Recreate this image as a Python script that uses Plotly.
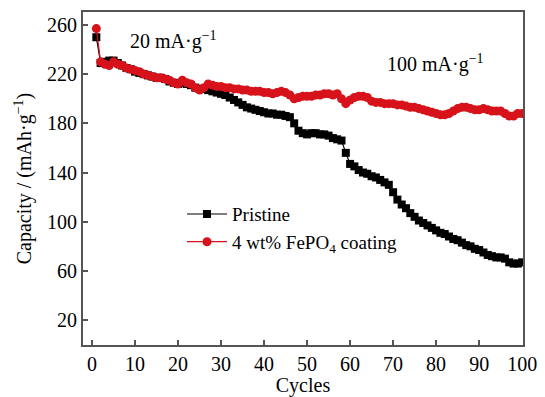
import plotly.graph_objects as go

cycles = list(range(1, 101))

pristine = [250, 229, 230, 231, 231, 229, 227, 225, 224, 222,
            221, 220, 219, 218, 217, 217, 216, 214, 213, 212,
            213, 212, 211, 209, 208, 208, 207, 206, 205, 204,
            203, 201, 199, 197, 195, 193, 192, 191, 190, 189,
            188, 188, 187, 187, 186, 185, 180, 174, 172, 171,
            172, 172, 171, 171, 170, 168, 167, 166, 156, 147,
            145, 142, 140, 139, 137, 136, 134, 132, 130, 124,
            118, 114, 111, 107, 104, 101, 99, 97, 95, 93,
            91, 90, 88, 86, 85, 83, 81, 80, 78, 77,
            75, 73, 72, 71, 71, 70, 67, 66, 66, 67]

coated = [257, 230, 228, 227, 230, 228, 227, 225, 224, 223,
          222, 220, 219, 218, 217, 217, 216, 215, 213, 212,
          215, 213, 212, 209, 207, 209, 212, 211, 210, 210,
          209, 209, 208, 208, 207, 207, 206, 206, 206, 205,
          205, 204, 205, 206, 205, 203, 200, 201, 202, 202,
          202, 203, 203, 204, 204, 203, 204, 200, 196, 199,
          201, 202, 202, 201, 198, 197, 197, 196, 196, 196,
          195, 195, 194, 193, 193, 192, 191, 190, 189, 188,
          187, 187, 188, 190, 192, 193, 193, 192, 191, 191,
          192, 191, 190, 190, 190, 188, 186, 186, 188, 188]

x_ticks = list(range(0, 101, 10))
y_ticks = list(range(20, 261, 40))

FONT = "Liberation Serif"
AX = "#555555"

fig = go.Figure()
fig.add_trace(go.Scatter(
    x=cycles, y=pristine, mode="lines+markers", name="Pristine",
    line=dict(color="black", width=1.2),
    marker=dict(symbol="square", size=8, color="black"),
))
fig.add_trace(go.Scatter(
    x=cycles, y=coated, mode="lines+markers",
    name="4 wt% FePO<sub>4</sub> coating",
    line=dict(color="#d7121b", width=1.2),
    marker=dict(symbol="circle", size=9, color="#d7121b"),
))

fig.update_layout(
    width=545, height=397,
    margin=dict(l=83, r=8, t=12, b=49),
    paper_bgcolor="white", plot_bgcolor="white",
    font=dict(family=FONT, size=20, color="black"),
    showlegend=True,
    legend=dict(x=0.225, y=0.45, xanchor="left", yanchor="top",
                bgcolor="rgba(0,0,0,0)", font=dict(size=19),
                tracegroupgap=0, itemwidth=40),
    annotations=[
        dict(x=19, y=247, xref="x", yref="y", text="20 mA·g<sup>−1</sup>",
             showarrow=False, font=dict(size=20)),
        dict(x=79.8, y=228.5, xref="x", yref="y", text="100 mA·g<sup>−1</sup>",
             showarrow=False, font=dict(size=20)),
    ],
)
fig.update_xaxes(
    range=[-2.1, 100.2], tickvals=x_ticks, ticks="inside", ticklen=5,
    tickcolor=AX, tickwidth=1.5, showline=True, linecolor=AX, linewidth=2,
    mirror=True, showgrid=False, zeroline=False, ticklabeloverflow="allow",
    title=dict(text="Cycles", standoff=0, font=dict(size=20)),
)
fig.update_yaxes(
    range=[-0.2, 270.5], tickvals=y_ticks, ticks="inside", ticklen=5,
    tickcolor=AX, tickwidth=1.5, showline=True, linecolor=AX, linewidth=2,
    mirror=True, showgrid=False, zeroline=False,
    title=dict(text="Capacity / (mAh·g<sup>−1</sup>)", standoff=10, font=dict(size=20)),
)

fig.write_html("out.html", config={"displayModeBar": False},
               post_script="document.body.style.margin='0';")
